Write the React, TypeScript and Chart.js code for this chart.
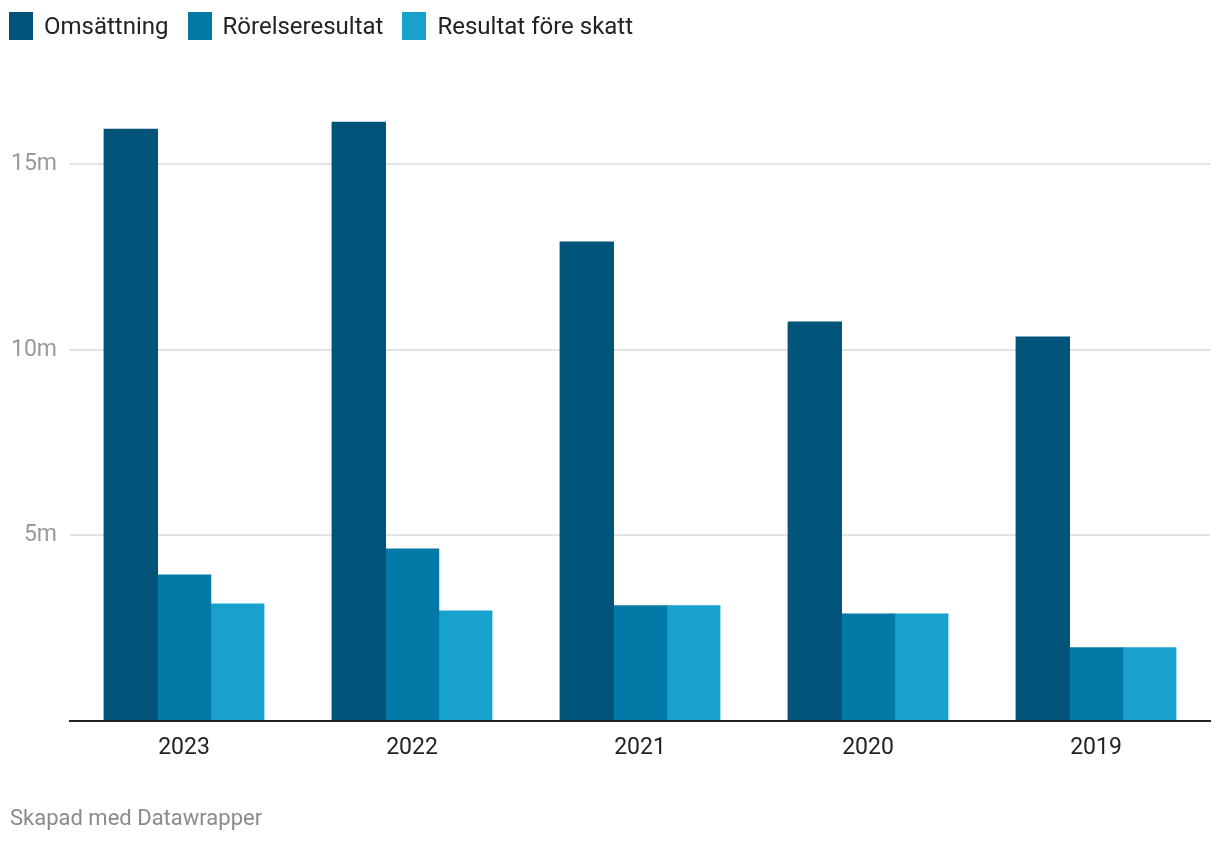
import React, { useEffect, useRef } from "react";
import { Chart, registerables } from "chart.js";

Chart.register(...registerables);

const categories = ["2023", "2022", "2021", "2020", "2019"];
const omsattning = [15.94, 16.13, 12.9, 10.75, 10.34];
const rorelseresultat = [3.93, 4.63, 3.1, 2.88, 1.97];
const resultatForeSkatt = [3.15, 2.96, 3.1, 2.88, 1.97];
const seriesNames = ["Omsättning", "Rörelseresultat", "Resultat före skatt"];
const seriesColors = ["#005479", "#0279a6", "#19a1cd"];
const yTicks = [5, 10, 15];

const FONT = "Roboto, 'Noto Sans', sans-serif";

export default function App() {
  const canvasRef = useRef<HTMLCanvasElement | null>(null);

  useEffect(() => {
    document.body.style.margin = "0";
    const ctx = canvasRef.current!;
    const chart = new Chart(ctx, {
      type: "bar",
      data: {
        labels: categories,
        datasets: [omsattning, rorelseresultat, resultatForeSkatt].map((d, i) => ({
          label: seriesNames[i],
          data: d,
          backgroundColor: seriesColors[i],
          borderWidth: 0,
          inflateAmount: 0.6,
          categoryPercentage: 0.7,
          barPercentage: 1.0,
        })),
      },
      options: {
        responsive: false,
        animation: false,
        maintainAspectRatio: false,
        layout: { padding: { top: 90, right: 10, left: 0, bottom: 0 } },
        plugins: {
          legend: { display: false },
          tooltip: { enabled: false },
        },
        scales: {
          x: {
            grid: { display: false, drawTicks: false },
            border: { display: true, color: "#222", width: 2, z: 1 },
            ticks: {
              color: "#222",
              font: { family: FONT, size: 23 },
              padding: 13,
            },
            afterFit: (scale: any) => {
              scale.height = 123;
            },
          },
          y: {
            min: 0,
            max: 17,
            border: { display: false },
            grid: {
              drawTicks: false,
              color: (c: any) =>
                c.tick && c.tick.value > 0 && yTicks.includes(c.tick.value) ? "#e3e3e3" : "rgba(0,0,0,0)",
              lineWidth: 2,
            },
            afterBuildTicks: (scale: any) => {
              scale.ticks = [0, ...yTicks].map((v) => ({ value: v }));
            },
            ticks: {
              color: "#9a9a9a",
              font: { family: FONT, size: 23 },
              padding: 13,
              callback: (v: any) => (v === 0 ? "" : v + "m"),
            },
            afterFit: (scale: any) => {
              scale.width = 70;
            },
          },
        },
      },
    });
    return () => chart.destroy();
  }, []);

  return (
    <div style={{ position: "absolute", left: 0, top: 0, width: 1220, height: 844, background: "#fff", fontFamily: FONT }}>
      <canvas ref={canvasRef} width={1220} height={844} style={{ position: "absolute", left: 0, top: 0 }} />
      <div style={{ position: "absolute", left: 9, top: 11, display: "flex", alignItems: "center" }}>
        {seriesNames.map((n, i) => (
          <div key={n} style={{ display: "flex", alignItems: "center", marginRight: 19 }}>
            <div style={{ width: 24, height: 28, background: seriesColors[i], marginRight: 11 }} />
            <span style={{ fontSize: 24, color: "#222", lineHeight: "30px" }}>{n}</span>
          </div>
        ))}
      </div>
      <div style={{ position: "absolute", left: 10, top: 805, fontSize: 22, color: "#8a8a8a" }}>
        Skapad med Datawrapper
      </div>
    </div>
  );
}
